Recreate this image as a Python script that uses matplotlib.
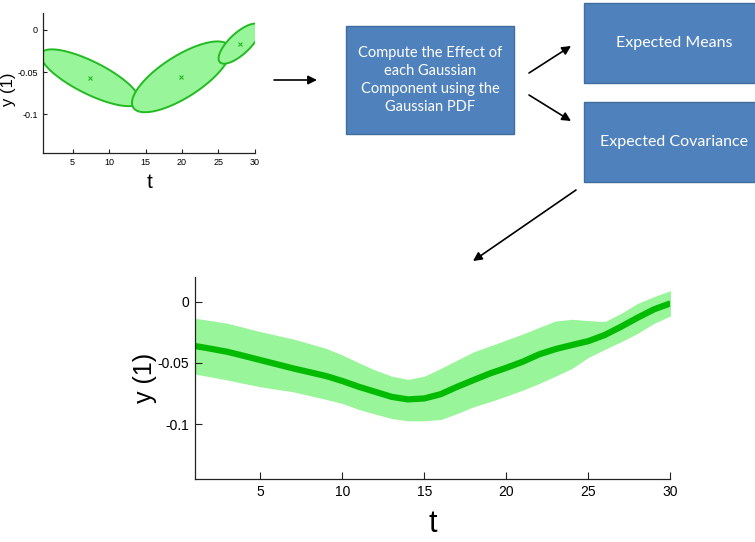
#!/usr/bin/python
#Gaussian mixture regression: components -> expected mean / covariance
import matplotlib
matplotlib.use("Agg")
import matplotlib.pyplot as plt
import numpy as np

#Time steps and regressed output
t = np.arange(1, 31)
meanCurve = [-0.0362, -0.0385, -0.041, -0.0443, -0.0477, -0.0511, -0.0545, -0.0576, -0.0607, -0.0648,
	-0.0695, -0.0736, -0.0777, -0.0798, -0.0790, -0.0755, -0.0695, -0.0640, -0.0586, -0.0540,
	-0.0490, -0.0430, -0.0387, -0.0354, -0.0322, -0.0272, -0.0204, -0.0131, -0.0063, -0.0014]
upperBand = [-0.0136, -0.0155, -0.0177, -0.0211, -0.0245, -0.0275, -0.0305, -0.0343, -0.0381, -0.0436,
	-0.0499, -0.0559, -0.0608, -0.0635, -0.0608, -0.0545, -0.0477, -0.0410, -0.0362, -0.0313,
	-0.0264, -0.0210, -0.0158, -0.0144, -0.0155, -0.0163, -0.0095, -0.0014, 0.0041, 0.0090]
lowerBand = [-0.0591, -0.0615, -0.0640, -0.0668, -0.0695, -0.0716, -0.0736, -0.0767, -0.0798, -0.0831,
	-0.0880, -0.0918, -0.0954, -0.0973, -0.0973, -0.0962, -0.0913, -0.0858, -0.0817, -0.0771,
	-0.0722, -0.0668, -0.0608, -0.0545, -0.0455, -0.0390, -0.0327, -0.0259, -0.0177, -0.0117]

#Gaussian components: means and covariances in (t, y)
compMeans = [[7.4, -0.0567], [19.9, -0.0556], [27.9, -0.0165]]
compCovs = [[[45.7, -0.176], [-0.176, 0.00112]],
	[[45.7, 0.2075], [0.2075, 0.00174]],
	[[8.29, 0.05], [0.05, 0.000557]]]

xTicks = [5, 10, 15, 20, 25, 30]
yTicks = [0, -0.05, -0.1]
yTickLabels = ["0", "-0.05", "-0.1"]

boxText = "Compute the Effect of\neach Gaussian\nComponent using the\nGaussian PDF"
meansText = "Expected Means"
covText = "Expected Covariance"

FILL = "#99f599"
EDGE = "#22bb22"
LINE = "#00bb00"
BLUE = "#4f81bd"
AXFONT = ["Liberation Sans", "DejaVu Sans"]

def styleAxes(ax, tickSize, labelSize, tickLen):
	ax.set_xlim(1, 30)
	ax.set_ylim(-0.145, 0.02)
	ax.spines["top"].set_visible(False)
	ax.spines["right"].set_visible(False)
	for s in ("left", "bottom"):
		ax.spines[s].set_color("#222222")
		ax.spines[s].set_linewidth(0.9)
	ax.set_xticks(xTicks)
	ax.set_yticks(yTicks)
	ax.set_yticklabels(yTickLabels)
	ax.tick_params(direction="in", length=tickLen, width=0.8, color="#222222", pad=4)
	for lab in ax.get_xticklabels() + ax.get_yticklabels():
		lab.set_family(AXFONT)
		lab.set_fontsize(tickSize)
	ax.set_xlabel("t", family=AXFONT, fontsize=labelSize)
	ax.set_ylabel("y (1)", family=AXFONT, fontsize=labelSize)

def ellipsePoints(mu, cov, n=200):
	L = np.linalg.cholesky(np.asarray(cov))
	a = np.linspace(0, 2*np.pi, n)
	circle = np.vstack([np.cos(a), np.sin(a)])
	pts = L @ circle
	return pts[0] + mu[0], pts[1] + mu[1]

def drawBox(ax, x0, y0, x1, y1, text, size, tx=None):
	ax.add_patch(plt.Rectangle((x0, y0), x1-x0, y1-y0, facecolor=BLUE, edgecolor="#3f6d9e", lw=1.0))
	if tx is None:
		tx = (x0+x1)/2.0
	ax.text(tx, (y0+y1)/2.0, text, ha="center", va="center", color="white",
		fontsize=size, family=["Lato", "DejaVu Sans"], linespacing=1.35)

def drawArrow(ax, start, end):
	ax.annotate("", xy=end, xytext=start,
		arrowprops=dict(arrowstyle="-|>", color="black", lw=1.2, mutation_scale=13, shrinkA=0, shrinkB=0))

def main():
	fig = plt.figure(figsize=(7.55, 5.42), dpi=100)

	#overlay in pixel coordinates for the flow boxes and arrows
	bg = fig.add_axes([0, 0, 1, 1])
	bg.set_xlim(0, 755)
	bg.set_ylim(542, 0)
	bg.axis("off")

	drawBox(bg, 346, 26, 514, 134, boxText, 10.5)
	drawBox(bg, 584, 3, 770, 83, meansText, 11.5, tx=674)
	drawBox(bg, 584, 102, 770, 182, covText, 11.5, tx=674)

	drawArrow(bg, (274, 80), (317, 80))
	drawArrow(bg, (529, 73), (571, 46))
	drawArrow(bg, (529, 95), (571, 121))
	drawArrow(bg, (576, 190), (473, 261))

	#Gaussian components
	small = fig.add_axes([0.0576, 0.7183, 0.280, 0.2583])
	small.patch.set_alpha(0)
	for mu, cov in zip(compMeans, compCovs):
		ex, ey = ellipsePoints(mu, cov)
		small.fill(ex, ey, facecolor=FILL, edgecolor=EDGE, lw=1.4)
		small.plot(mu[0], mu[1], "x", color=EDGE, ms=3, mew=0.8)
	styleAxes(small, 6.5, 15, 3)
	small.xaxis.labelpad = 4
	small.set_ylabel("y (1)", family=AXFONT, fontsize=12)
	small.yaxis.set_label_coords(-0.13, 0.45)

	#Regressed mean with covariance band
	main_ax = fig.add_axes([0.258, 0.1157, 0.630, 0.373])
	main_ax.patch.set_alpha(0)
	main_ax.fill_between(t, lowerBand, upperBand, color=FILL, lw=0)
	main_ax.plot(t, meanCurve, color=LINE, lw=4.5, solid_capstyle="butt")
	styleAxes(main_ax, 10, 22, 5)
	main_ax.xaxis.labelpad = 7
	main_ax.set_ylabel("y (1)", family=AXFONT, fontsize=18)
	main_ax.yaxis.set_label_coords(-0.08, 0.5)

	fig.savefig("out.png", dpi=100)

if __name__ == "__main__":
	main()
